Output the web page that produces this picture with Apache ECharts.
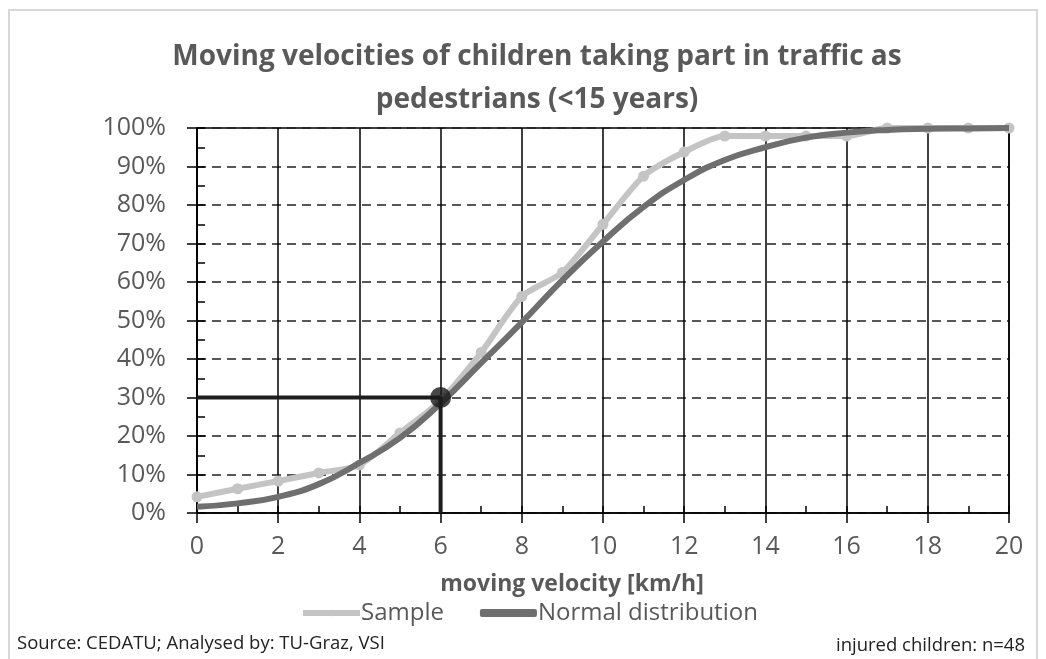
<!DOCTYPE html>
<html>
<head>
<meta charset="utf-8">
<title>Moving velocities of children</title>
<script src="https://cdn.jsdelivr.net/npm/echarts@6/dist/echarts.min.js"></script>
<style>
  html, body { margin: 0; padding: 0; background: #fff; }
  #main { width: 1046px; height: 659px; }
</style>
</head>
<body>
<div id="main"></div>
<script>
// velocity in km/h (x axis)
var velocity = [0, 1, 2, 3, 4, 5, 6, 7, 8, 9, 10, 11, 12, 13, 14, 15, 16, 17, 18, 19, 20];
// cumulative share of the sample (n=48)
var sampleShare = [0.042, 0.063, 0.083, 0.104, 0.125, 0.208, 0.292, 0.417, 0.5625, 0.625, 0.75,
                   0.875, 0.9375, 0.979, 0.979, 0.979, 0.979, 1, 1, 1, 1];
// fitted normal distribution
var normalShare = [0.016, 0.025, 0.042, 0.075, 0.13, 0.195, 0.285, 0.39, 0.495, 0.605, 0.705,
                   0.795, 0.865, 0.917, 0.95, 0.975, 0.988, 0.995, 0.998, 0.999, 1.0];
// 30% marker at 6 km/h
var markerX = 6;
var markerY = 0.3;
var xTicks = [0, 2, 4, 6, 8, 10, 12, 14, 16, 18, 20];
var yTicks = [0, 0.1, 0.2, 0.3, 0.4, 0.5, 0.6, 0.7, 0.8, 0.9, 1.0];

var font = 'Open Sans';
var grey = '#595959';

var chart = echarts.init(document.getElementById('main'));

var samplePts = velocity.map(function (v, i) { return [v, sampleShare[i]]; });
var normalPts = velocity.map(function (v, i) { return [v, normalShare[i]]; });
var guidePts = [[xTicks[0], markerY], [markerX, markerY], [markerX, yTicks[0]]];

var option = {
    animation: false,
    title: {
        text: 'Moving velocities of children taking part in traffic as\npedestrians (<15 years)',
        left: 532,
        top: 31,
        textAlign: 'center',
        textStyle: {
            fontFamily: font,
            fontSize: 28,
            fontWeight: 'bold',
            color: grey,
            lineHeight: 43
        }
    },
    graphic: [
        {
            type: 'rect',
            shape: { x: 9, y: 10, width: 1028, height: 670 },
            style: { fill: 'none', stroke: '#d9d9d9', lineWidth: 2 },
            silent: true
        },
        {
            type: 'text', left: 17, top: 634,
            style: { text: 'Source: CEDATU; Analysed by: TU-Graz, VSI', font: '18.5px "Open Sans"', fill: '#222' }
        },
        {
            type: 'text', right: 21, top: 636,
            style: { text: 'injured children: n=48', font: '18.5px "Open Sans"', fill: '#222' }
        }
    ],
    legend: {
        top: 596,
        left: 295,
        itemGap: 36,
        itemWidth: 57,
        itemHeight: 8,
        textStyle: { fontFamily: font, fontSize: 24, color: grey, padding: [0, 0, 0, -4] },
        data: [
            { name: 'Sample', lineStyle: { width: 6 } },
            { name: 'Normal distribution', icon: 'roundRect' }
        ]
    },
    grid: {
        left: 197, right: 37, top: 128, bottom: 146,
        show: true,
        borderColor: '#000',
        borderWidth: 1.5
    },
    xAxis: [
        {
            type: 'value',
            min: xTicks[0], max: xTicks[xTicks.length - 1], interval: 2,
            name: 'moving velocity [km/h]',
            nameLocation: 'middle',
            nameGap: 60,
            nameTextStyle: { fontFamily: font, fontSize: 23, fontWeight: 'bold', color: grey, padding: [0, 62, 0, 0] },
            axisLine: { onZero: false, lineStyle: { color: '#000', width: 1.5 } },
            axisTick: { show: true, length: 10, lineStyle: { color: '#000', width: 1.5 } },
            axisLabel: { fontFamily: font, fontSize: 25, color: grey, margin: 21 },
            splitLine: { show: true, lineStyle: { color: '#000', width: 1.5 } }
        },
        {
            type: 'value',
            position: 'bottom',
            min: xTicks[0], max: xTicks[xTicks.length - 1], interval: 1,
            axisLine: { show: false },
            axisTick: { show: true, inside: true, length: 7, lineStyle: { color: '#000', width: 1.5 } },
            axisLabel: { show: false },
            splitLine: { show: false }
        }
    ],
    yAxis: [
        {
            type: 'value',
            min: yTicks[0], max: yTicks[yTicks.length - 1], interval: 0.1,
            axisLine: { show: true, lineStyle: { color: '#000', width: 1.5 } },
            axisTick: { show: true, length: 10, lineStyle: { color: '#000', width: 1.5 } },
            axisLabel: {
                fontFamily: font, fontSize: 25, color: grey, margin: 31,
                formatter: function (v) { return Math.round(v * 100) + '%'; }
            },
            splitLine: { show: true, lineStyle: { color: '#222', width: 1.5, type: [9, 6] } }
        },
        {
            type: 'value',
            position: 'left',
            min: yTicks[0], max: yTicks[yTicks.length - 1], interval: 0.05,
            axisLine: { show: false },
            axisTick: { show: true, inside: true, length: 8, lineStyle: { color: '#000', width: 1.5 } },
            axisLabel: { show: false },
            splitLine: { show: false }
        }
    ],
    series: [
        {
            name: 'Sample',
            type: 'line',
            data: samplePts,
            smooth: 0.25,
            symbol: 'circle',
            symbolSize: 11,
            itemStyle: { color: '#c4c4c4' },
            lineStyle: { color: '#c4c4c4', width: 6 },
            z: 3
        },
        {
            name: 'Normal distribution',
            type: 'line',
            data: normalPts,
            smooth: true,
            showSymbol: false,
            symbol: 'none',
            itemStyle: { color: '#6f6f6f' },
            lineStyle: { color: '#6f6f6f', width: 6 },
            z: 4
        },
        {
            name: 'guide',
            type: 'line',
            data: guidePts,
            symbol: 'none',
            lineStyle: { color: '#1e1e1e', width: 4 },
            z: 5
        },
        {
            name: 'marker',
            type: 'scatter',
            data: [[markerX, markerY]],
            symbolSize: 21,
            itemStyle: { color: '#1a1a1a' },
            z: 6
        }
    ]
};

chart.setOption(option);
</script>
</body>
</html>
